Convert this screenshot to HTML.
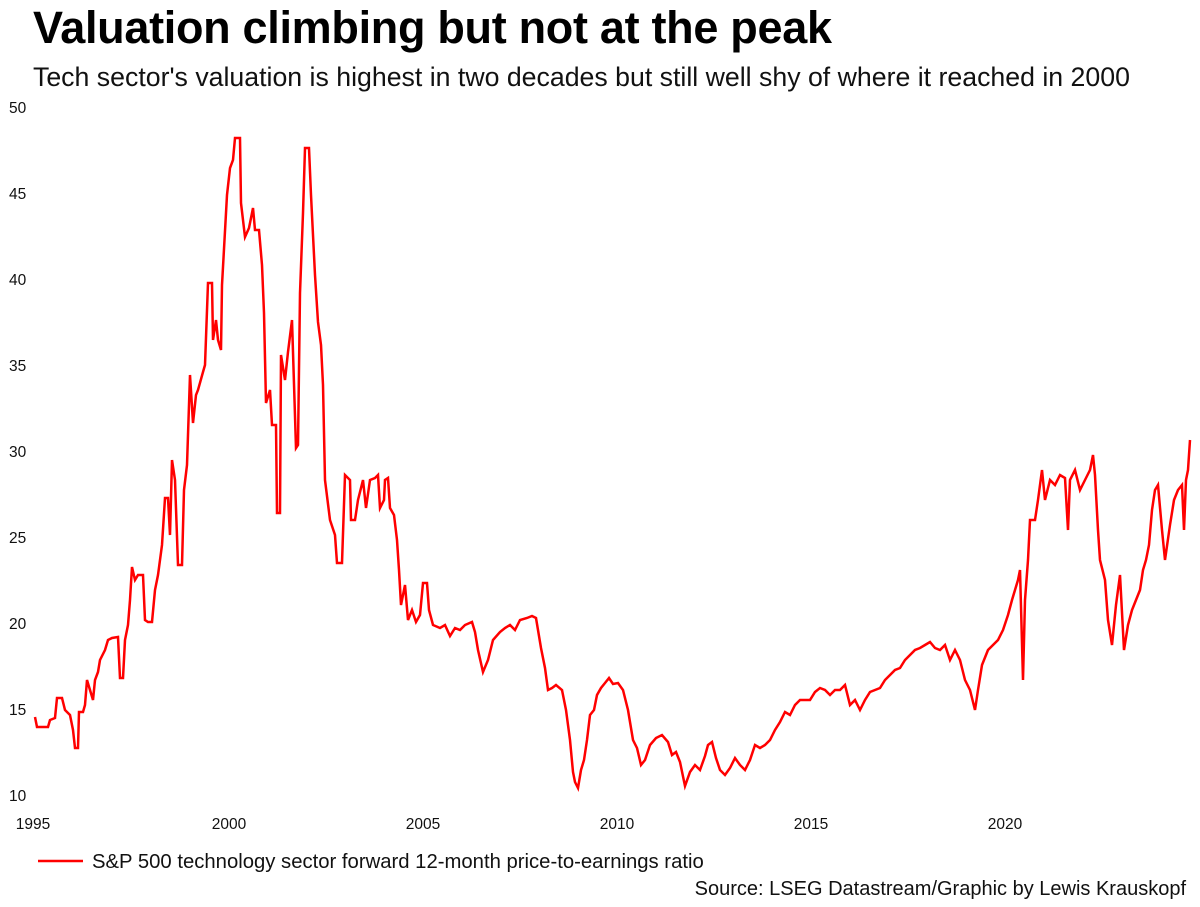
<!DOCTYPE html>
<html><head><style>
body{margin:0;background:#fff;width:1200px;height:907px;overflow:hidden;font-family:"Liberation Sans",Arial,sans-serif;position:relative}
.t{position:absolute;left:33px;top:2px;font-size:45px;font-weight:bold;color:#000;letter-spacing:-0.3px}
.s{position:absolute;left:33px;top:62px;font-size:26.7px;color:#111}
.src{position:absolute;right:14px;top:878px;font-size:20px;color:#111}
</style></head><body>
<div class="t">Valuation climbing but not at the peak</div>
<div class="s">Tech sector's valuation is highest in two decades but still well shy of where it reached in 2000</div>
<svg width="1200" height="907" style="position:absolute;left:0;top:0" font-family="Liberation Sans, Arial, sans-serif" font-size="15.5" fill="#111">
<g text-anchor="start">
<text x="9" y="113">50</text><text x="9" y="199">45</text><text x="9" y="285">40</text><text x="9" y="371">35</text><text x="9" y="457">30</text><text x="9" y="543">25</text><text x="9" y="629">20</text><text x="9" y="715">15</text><text x="9" y="801">10</text>
</g>
<g text-anchor="middle">
<text x="33" y="829">1995</text><text x="229" y="829">2000</text><text x="423" y="829">2005</text><text x="617" y="829">2010</text><text x="811" y="829">2015</text><text x="1005" y="829">2020</text>
</g>
<line x1="38" y1="861" x2="83" y2="861" stroke="#f00" stroke-width="2.5"/>
<text x="92" y="868" font-size="20.3">S&amp;P 500 technology sector forward 12-month price-to-earnings ratio</text>
<polyline fill="none" stroke="#f00" stroke-width="2.5" stroke-linejoin="miter" points="35,717 37,727 48,727 50,720 55,718 57,698 62,698 65,710 70,715 73,730 75,748 78,748 79,712 83,712 85,705 87,680 90,690 93,700 95,680 98,672 100,660 105,650 108,640 112,638 118,637 120,678 123,678 125,640 128,625 130,600 132,567 135,580 138,575 143,575 145,620 148,622 152,622 155,590 158,575 162,545 165,498 168,498 170,535 172,460 175,480 178,565 182,565 184,490 187,465 190,375 193,423 196,395 198,390 203,372 205,365 208,283 212,283 213,340 216,320 218,340 221,350 222,285 227,195 230,168 233,160 235,138 240,138 241,203 245,237 249,228 253,208 255,230 259,230 262,265 264,313 266,403 270,390 272,425 276,425 277,513 280,513 281,355 285,380 288,352 292,320 296,448 298,445 300,293 303,213 305,148 309,148 311,195 315,275 318,322 321,345 323,385 325,480 330,520 335,535 337,563 342,563 345,475 350,480 351,520 355,520 358,500 363,480 366,508 370,480 375,478 378,475 380,508 384,500 385,480 388,478 390,508 394,515 397,540 399,570 401,605 405,585 408,620 412,610 416,622 420,615 423,583 427,583 429,610 433,625 440,628 445,625 450,636 455,628 460,630 465,625 472,622 475,632 478,650 483,672 488,660 493,640 500,632 505,628 510,625 515,630 520,620 527,618 532,616 536,618 538,630 541,648 545,668 548,690 552,688 556,685 562,690 566,710 570,740 573,772 575,782 578,788 581,770 584,760 587,740 590,715 594,710 597,695 601,688 605,683 609,678 613,684 618,683 623,690 628,710 633,740 637,748 641,765 645,760 650,745 656,738 662,735 668,742 672,755 676,752 680,762 685,786 690,772 695,765 700,770 705,756 708,745 712,742 716,758 720,770 725,775 730,768 735,758 740,765 745,770 750,760 755,745 760,748 765,745 770,740 775,730 780,722 785,712 790,715 795,705 800,700 810,700 815,692 820,688 825,690 830,695 835,690 840,690 845,685 850,705 855,700 860,710 865,700 870,692 875,690 880,688 885,680 890,675 895,670 900,668 905,660 910,655 915,650 920,648 925,645 930,642 935,648 940,650 945,645 950,660 955,650 960,660 965,680 970,690 975,710 978,690 982,665 988,650 993,645 998,640 1003,630 1008,615 1012,600 1015,590 1018,580 1020,570 1023,680 1025,600 1028,560 1030,520 1035,520 1038,500 1042,470 1045,500 1050,480 1055,485 1060,475 1065,478 1068,530 1070,480 1075,470 1080,490 1085,480 1090,470 1093,455 1095,475 1098,530 1100,560 1105,580 1108,620 1112,645 1116,605 1120,575 1124,650 1128,625 1132,610 1136,600 1140,590 1143,570 1146,560 1149,545 1152,510 1155,490 1158,485 1162,530 1165,560 1170,525 1174,500 1178,490 1182,485 1184,530 1186,480 1188,470 1190,440"/>
</svg>
<div class="src">Source: LSEG Datastream/Graphic by Lewis Krauskopf</div>
</body></html>
